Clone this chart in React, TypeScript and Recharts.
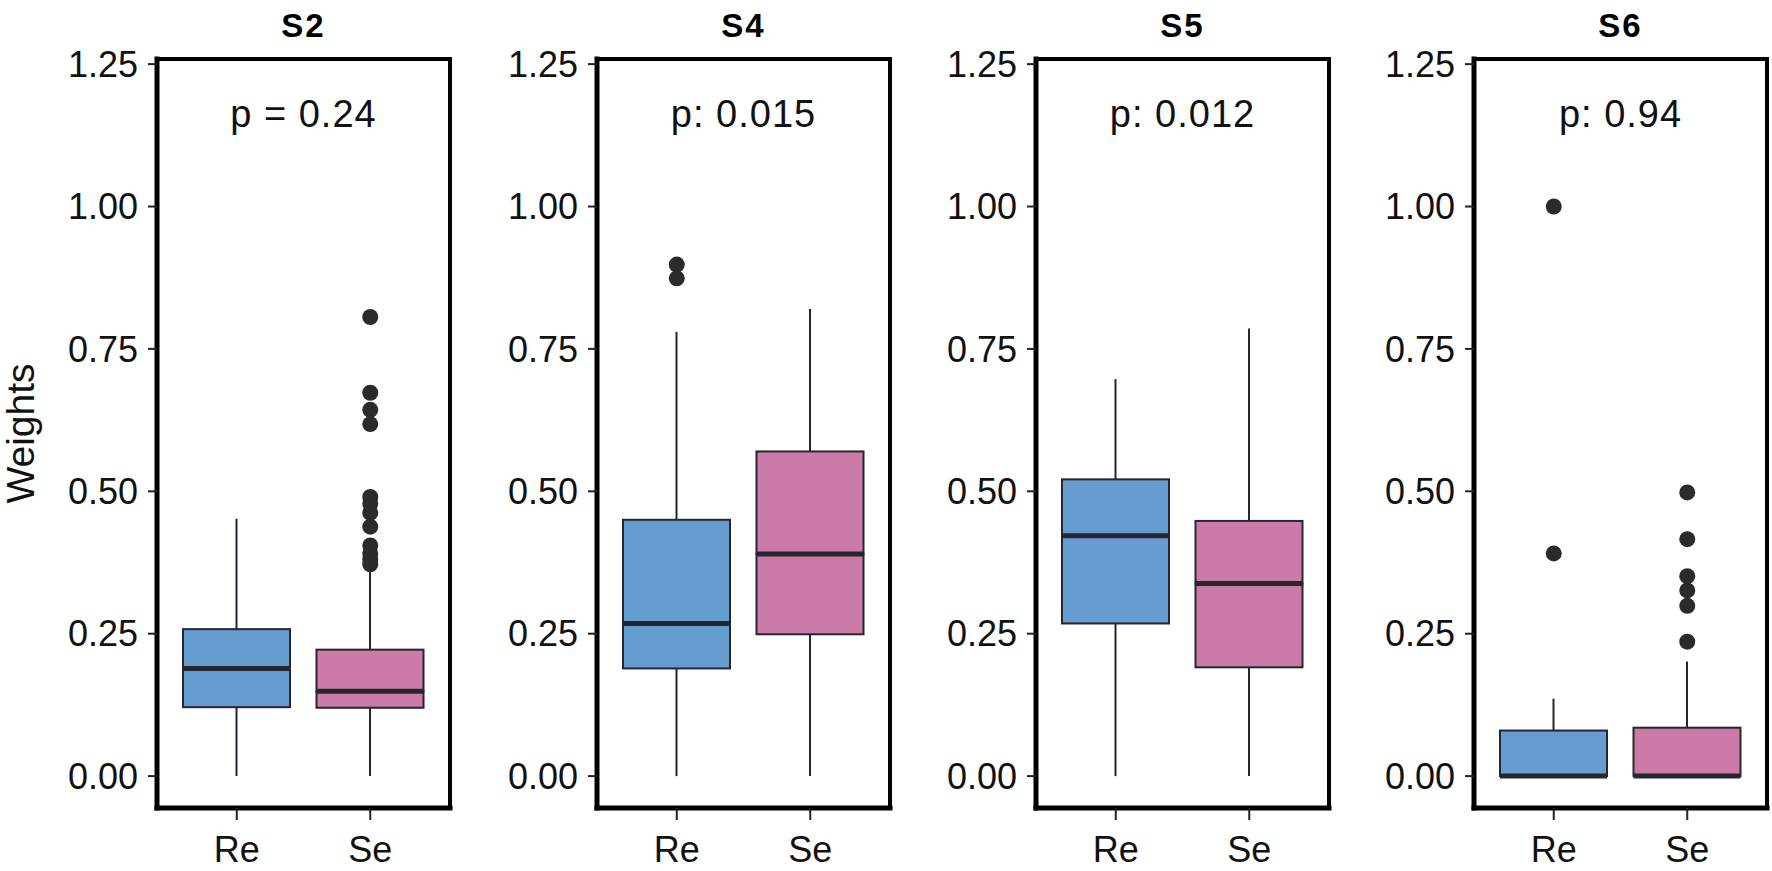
import { ComposedChart, Bar, Scatter, XAxis, YAxis } from 'recharts'

const panels = ['S2', 'S4', 'S5', 'S6']
const pLabels = ['p = 0.24', 'p: 0.015', 'p: 0.012', 'p: 0.94']
const groups = ['Re', 'Se']
const yTicks = [0, 0.25, 0.5, 0.75, 1, 1.25]

// one [Re, Se] pair per panel
const lowerWhisker = [[0, 0], [0, 0], [0, 0], [0, 0]]
const q1 = [[0.121, 0.12], [0.189, 0.249], [0.268, 0.191], [0, 0]]
const median = [[0.189, 0.149], [0.268, 0.39], [0.422, 0.338], [0, 0]]
const q3 = [[0.258, 0.222], [0.45, 0.57], [0.521, 0.448], [0.08, 0.085]]
const upperWhisker = [[0.452, 0.365], [0.78, 0.82], [0.697, 0.786], [0.136, 0.201]]
const outliers = [
  [[], [0.806, 0.673, 0.643, 0.618, 0.49, 0.478, 0.462, 0.438, 0.405, 0.391, 0.38, 0.372]],
  [[0.898, 0.874], []],
  [[], []],
  [[1.0, 0.391], [0.498, 0.416, 0.351, 0.326, 0.299, 0.236]],
]

const fills = ['#659dd0', '#cc7aa8']
const dark = '#262630'
const font = '"Liberation Sans", Arial, sans-serif'
const frameLefts = [157, 597, 1036, 1474]
const AXIS_W = 157
const PLOT_W = 293
const Y_DOMAIN = [-0.056, 1.259]

const Whisker = (props: any) => {
  const { x, y, width, height } = props
  const cx = x + width / 2
  return <line x1={cx} x2={cx} y1={y} y2={y + height} stroke={dark} strokeWidth={2} />
}

const BoxLow = (props: any) => {
  const { x, y, width, height, index } = props
  return <rect x={x} y={y} width={width} height={Math.max(height, 0)} fill={fills[index]} stroke={dark} strokeWidth={2} />
}

const BoxHigh = (props: any) => {
  const { x, y, width, height, index } = props
  return (
    <g>
      <rect x={x} y={y} width={width} height={Math.max(height, 0)} fill={fills[index]} stroke={dark} strokeWidth={2} />
      <line x1={x} x2={x + width} y1={y + height} y2={y + height} stroke={dark} strokeWidth={5} />
    </g>
  )
}

const Dot = (props: any) => <circle cx={props.cx} cy={props.cy} r={8} fill="#2b2b2b" />

function Panel({ i }: { i: number }) {
  const rows = groups.map((g, j) => ({
    group: g,
    base: lowerWhisker[i][j],
    lowW: q1[i][j] - lowerWhisker[i][j],
    boxLo: median[i][j] - q1[i][j],
    boxHi: q3[i][j] - median[i][j],
    highW: upperWhisker[i][j] - q3[i][j],
  }))
  const pts = groups.flatMap((g, j) => outliers[i][j].map((v) => ({ group: g, v })))
  const left = frameLefts[i] - AXIS_W
  return (
    <div style={{ position: 'absolute', left, top: 0 }}>
      <ComposedChart
        width={AXIS_W + PLOT_W + 3}
        height={871}
        data={rows}
        margin={{ top: 58, right: 2, bottom: 0, left: 0 }}
      >
        <XAxis
          dataKey="group"
          allowDuplicatedCategory={false}
          padding={{ left: 13, right: 13 }}
          height={63}
          tickSize={12}
          tickMargin={16}
          axisLine={{ stroke: '#000', strokeWidth: 5, strokeLinecap: 'square' }}
          tickLine={{ stroke: '#222', strokeWidth: 2 }}
          tick={{ fontSize: 36, fill: '#111', fontFamily: font }}
        />
        <XAxis
          xAxisId="top"
          orientation="top"
          dataKey="group"
          allowDuplicatedCategory={false}
          height={1}
          tick={false}
          tickLine={false}
          axisLine={{ stroke: '#000', strokeWidth: 4, strokeLinecap: 'square' }}
        />
        <YAxis
          type="number"
          domain={Y_DOMAIN}
          allowDataOverflow
          ticks={yTicks}
          tickFormatter={(v: number) => v.toFixed(2)}
          width={AXIS_W}
          tickSize={9}
          tickMargin={10}
          axisLine={{ stroke: '#000', strokeWidth: 5, strokeLinecap: 'square' }}
          tickLine={{ stroke: '#222', strokeWidth: 2 }}
          tick={{ fontSize: 36, fill: '#111', fontFamily: font }}
          label={
            i === 0
              ? {
                  value: 'Weights',
                  angle: -90,
                  position: 'insideLeft',
                  offset: 20,
                  style: { textAnchor: 'middle', fontSize: 39, fill: '#111', fontFamily: font },
                }
              : undefined
          }
        />
        <YAxis
          yAxisId="right"
          orientation="right"
          type="number"
          domain={Y_DOMAIN}
          allowDataOverflow
          width={1}
          tick={false}
          tickLine={false}
          axisLine={{ stroke: '#000', strokeWidth: 4, strokeLinecap: 'square' }}
        />
        <Bar dataKey="base" stackId="box" fill="transparent" barSize={107} isAnimationActive={false} />
        <Bar dataKey="lowW" stackId="box" shape={Whisker} barSize={107} isAnimationActive={false} />
        <Bar dataKey="boxLo" stackId="box" shape={BoxLow} barSize={107} isAnimationActive={false} />
        <Bar dataKey="boxHi" stackId="box" shape={BoxHigh} barSize={107} isAnimationActive={false} />
        <Bar dataKey="highW" stackId="box" shape={Whisker} barSize={107} isAnimationActive={false} />
        <Scatter data={pts} dataKey="v" shape={Dot} isAnimationActive={false} />
      </ComposedChart>
      <div
        style={{
          position: 'absolute',
          left: AXIS_W,
          width: PLOT_W,
          top: 7,
          textAlign: 'center',
          fontFamily: font,
          fontWeight: 'bold',
          fontSize: 33,
          lineHeight: '38px',
          letterSpacing: 2,
          color: '#000',
        }}
      >
        {panels[i]}
      </div>
      <div
        style={{
          position: 'absolute',
          left: AXIS_W,
          width: PLOT_W,
          top: 95,
          textAlign: 'center',
          fontFamily: font,
          fontSize: 38,
          lineHeight: '38px',
          letterSpacing: 1,
          color: '#111',
        }}
      >
        {pLabels[i]}
      </div>
    </div>
  )
}

export default function App() {
  return (
    <div style={{ position: 'absolute', left: 0, top: 0, width: 1772, height: 871, background: '#fff' }}>
      {panels.map((p, i) => (
        <Panel key={p} i={i} />
      ))}
    </div>
  )
}
